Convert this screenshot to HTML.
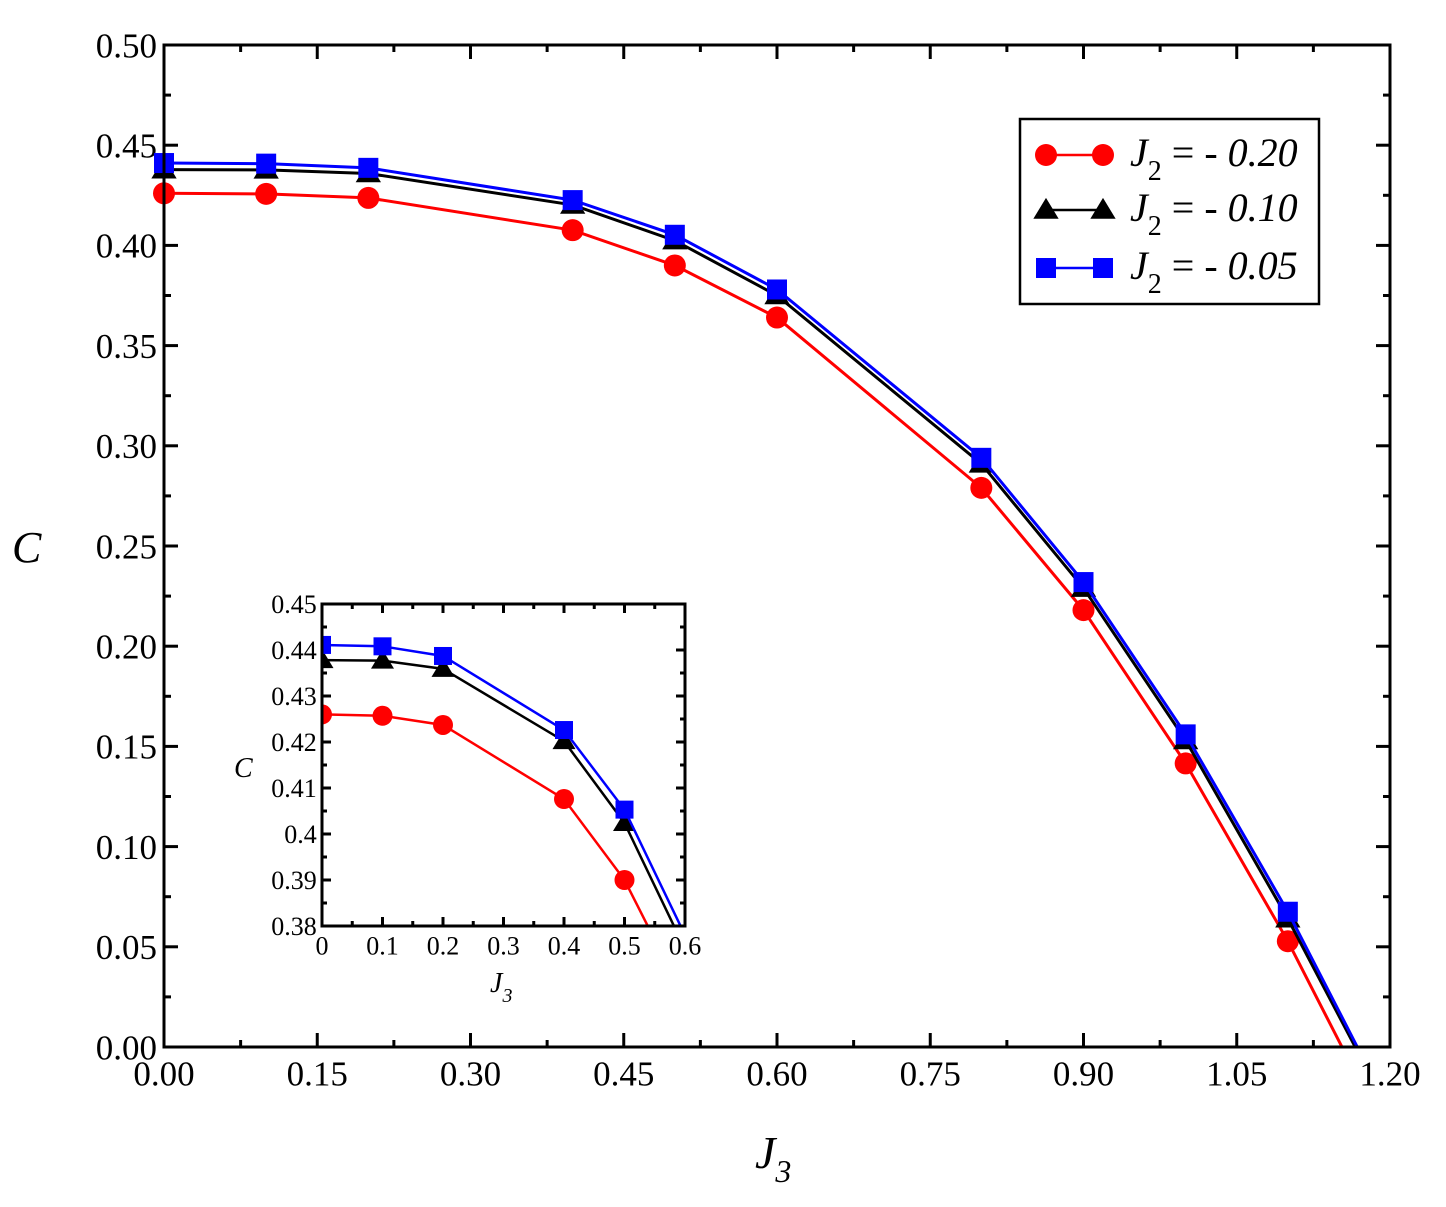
<!DOCTYPE html>
<html><head><meta charset="utf-8"><style>
html,body{margin:0;background:#fff;overflow:hidden;width:1446px;height:1207px;}
svg{display:block;font-family:"Liberation Serif",serif;}
</style></head><body>
<svg id="chart" width="1446" height="1207" viewBox="0 0 1446 1207" xmlns="http://www.w3.org/2000/svg"></svg>
<script>
const xs = [0, 0.1, 0.2, 0.4, 0.5, 0.6, 0.8, 0.9, 1.0, 1.1];
const red = [0.426, 0.4257, 0.4237, 0.4076, 0.390, 0.364, 0.279, 0.218, 0.1415, 0.0528];
const black = [0.4378, 0.4377, 0.4359, 0.4202, 0.4024, 0.375, 0.291, 0.229, 0.153, 0.0640];
const blue = [0.4411, 0.4408, 0.4387, 0.4226, 0.4053, 0.378, 0.294, 0.232, 0.156, 0.0675];
const redEnd = [1.153, 0];
const blackEnd = [1.166, 0];
const blueEnd = [1.168, 0];
const xTicks = ["0.00","0.15","0.30","0.45","0.60","0.75","0.90","1.05","1.20"];
const yTicks = ["0.00","0.05","0.10","0.15","0.20","0.25","0.30","0.35","0.40","0.45","0.50"];
const inXTicks = ["0","0.1","0.2","0.3","0.4","0.5","0.6"];
const inYTicks = ["0.38","0.39","0.4","0.41","0.42","0.43","0.44","0.45"];

const NS="http://www.w3.org/2000/svg";
const svg=document.getElementById('chart');
function el(tag,attrs,parent){const e=document.createElementNS(NS,tag);for(const k in attrs)e.setAttribute(k,attrs[k]);(parent||svg).appendChild(e);return e;}

function makeAxes(P,g,xMin,xMax,yMin,yMax,xMaj,yMaj,xLabels,yLabels,fs,majL,minL,sw){
  const X=v=>P.x0+(v-xMin)/(xMax-xMin)*(P.x1-P.x0);
  const Y=v=>P.y0-(v-yMin)/(yMax-yMin)*(P.y0-P.y1);
  const nx=Math.round((xMax-xMin)/xMaj);
  for(let i=0;i<=nx*2;i++){
    const v=xMin+i*xMaj/2, px=X(v), L=i%2==0?majL:minL;
    el('line',{x1:px,x2:px,y1:P.y0,y2:P.y0-L,stroke:'#000','stroke-width':sw},g);
    el('line',{x1:px,x2:px,y1:P.y1,y2:P.y1+L,stroke:'#000','stroke-width':sw},g);
  }
  const ny=Math.round((yMax-yMin)/yMaj);
  for(let i=0;i<=ny*2;i++){
    const v=yMin+i*yMaj/2, py=Y(v), L=i%2==0?majL:minL;
    el('line',{x1:P.x0,x2:P.x0+L,y1:py,y2:py,stroke:'#000','stroke-width':sw},g);
    el('line',{x1:P.x1,x2:P.x1-L,y1:py,y2:py,stroke:'#000','stroke-width':sw},g);
  }
  xLabels.forEach((t,i)=>{const tx=el('text',{x:X(xMin+i*xMaj),y:P.y0+fs*1.1,'font-size':fs,'text-anchor':'middle'},g);tx.textContent=t;
    
    });
  yLabels.forEach((t,i)=>{const tx=el('text',{x:P.x0-fs*0.2,y:Y(yMin+i*yMaj)+fs*0.35,'font-size':fs,'text-anchor':'end'},g);tx.textContent=t;
    
    });
  return {X,Y};
}
function marker(type,x,y,s,color,g){
  let m;
  if(type==='circle') m=el('circle',{cx:x,cy:y,r:s,fill:color},g);
  else if(type==='tri') m=el('polygon',{points:`${x},${y-s*1.1} ${x-s*1.15},${y+s*0.8} ${x+s*1.15},${y+s*0.8}`,fill:color},g);
  else m=el('rect',{x:x-s,y:y-s,width:2*s,height:2*s,fill:color},g);
  return m;
}
function series(A,vals,end,color,type,ms,lw,g,name,clip){
  const sg=el('g',clip?{'clip-path':clip}:{},g);
  
  
  const pts=xs.map((x,i)=>[A.X(x),A.Y(vals[i])]);
  pts.push([A.X(end[0]),A.Y(end[1])]);
  el('polyline',{points:pts.map(p=>p.join(',')).join(' '),fill:'none',stroke:color,'stroke-width':lw},sg);
  xs.forEach((x,i)=>{const m=marker(type,A.X(x),A.Y(vals[i]),ms,color,sg);
    
    });
}

const main=el('g',{});


const P={x0:164,x1:1390,y0:1047,y1:45};
const A=makeAxes(P,main,0,1.2,0,0.5,0.15,0.05,xTicks,yTicks,35,14,7,3);
series(A,red,redEnd,'#ff0000','circle',11,3,main,'series-j2-020');
series(A,black,blackEnd,'#000','tri',11,3,main,'series-j2-010');
series(A,blue,blueEnd,'#0000ff','square',10,3,main,'series-j2-005');
el('rect',{x:P.x0,y:P.y1,width:P.x1-P.x0,height:P.y0-P.y1,fill:'none',stroke:'#000','stroke-width':3},main);
let t=el('text',{x:12,y:562,'font-size':44,'font-style':'italic'});t.textContent='C';

t=el('text',{x:755,y:1168,'font-size':46,'font-style':'italic'});t.innerHTML='J<tspan font-size="32" dy="14">3</tspan>';


const lg=el('g',{});


el('rect',{x:1020,y:119,width:299,height:185,fill:'#fff',stroke:'#000','stroke-width':2.5},lg);
[['#ff0000','circle','- 0.20',155],['#000','tri','- 0.10',210],['#0000ff','square','- 0.05',268]].forEach(([c,ty,lab,y])=>{
  const e=el('g',{},lg);
  
  
  el('line',{x1:1046,x2:1103,y1:y,y2:y,stroke:c,'stroke-width':2.5},e);
  marker(ty,1046,y,ty==='square'?10:11,c,e);marker(ty,1103,y,ty==='square'?10:11,c,e);
  const tx=el('text',{x:1130,y:y+11,'font-size':40},e);
  tx.innerHTML='<tspan font-style="italic">J</tspan><tspan font-size="28" dy="14">2</tspan><tspan dy="-14"> = - </tspan><tspan font-style="italic">'+lab.slice(2)+'</tspan>';
});

const ins=el('g',{});


el('rect',{x:250,y:590,width:460,height:420,fill:'#fff'},ins);
const Q={x0:322,x1:685,y0:926,y1:604};
const defs=el('defs',{});const cp=el('clipPath',{id:'ic'},defs);el('rect',{x:Q.x0,y:Q.y1,width:Q.x1-Q.x0,height:Q.y0-Q.y1},cp);
const B=makeAxes(Q,ins,0,0.6,0.38,0.45,0.1,0.01,inXTicks,inYTicks,26,9,5,3);
series(B,red,redEnd,'#ff0000','circle',10,2.5,ins,'inset-series-j2-020','url(#ic)');
series(B,black,blackEnd,'#000','tri',10,2.5,ins,'inset-series-j2-010','url(#ic)');
series(B,blue,blueEnd,'#0000ff','square',9,2.5,ins,'inset-series-j2-005','url(#ic)');
el('rect',{x:Q.x0,y:Q.y1,width:Q.x1-Q.x0,height:Q.y0-Q.y1,fill:'none',stroke:'#000','stroke-width':3},ins);
t=el('text',{x:234,y:777,'font-size':28,'font-style':'italic'},ins);t.textContent='C';

t=el('text',{x:490,y:992,'font-size':28,'font-style':'italic'},ins);t.innerHTML='J<tspan font-size="20" dy="10">3</tspan>';

</script>
</body></html>
